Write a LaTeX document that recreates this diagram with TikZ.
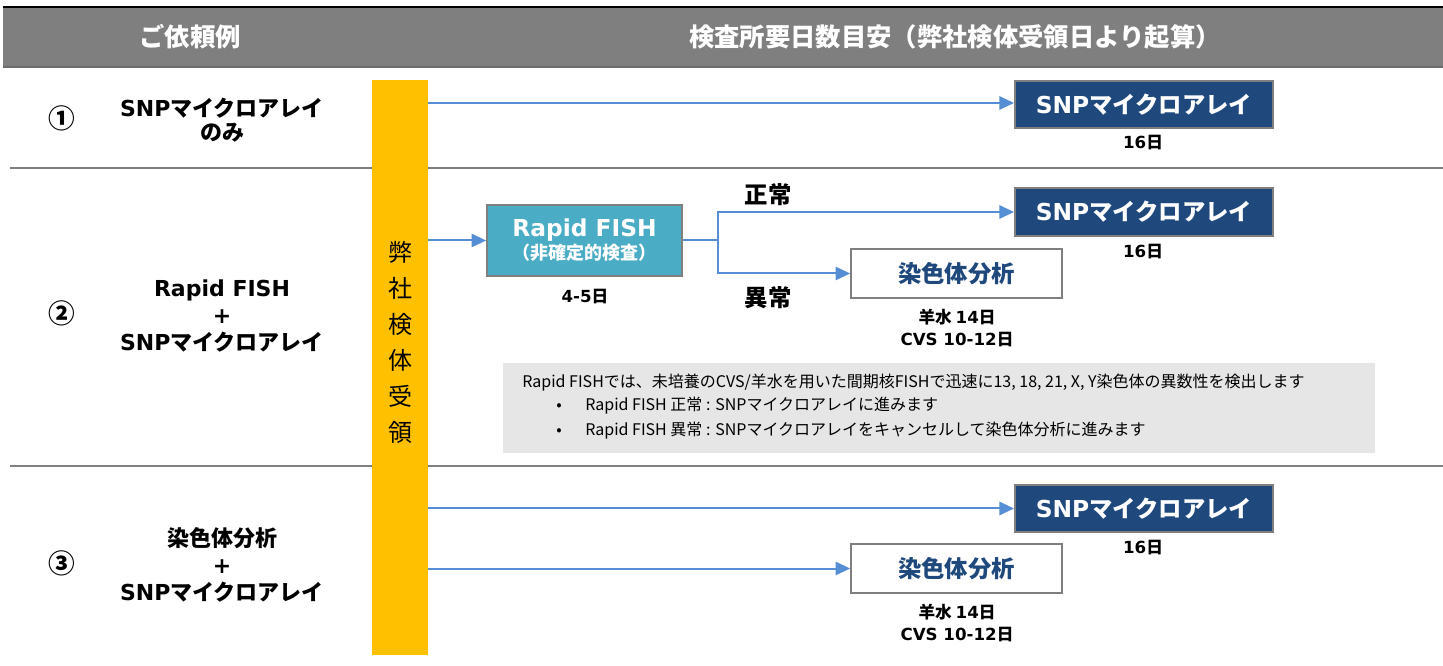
\documentclass[tikz,border=0pt]{standalone}
\usepackage{fontspec}
\setmainfont{Noto Sans CJK JP}
\newfontfamily\lat{DejaVu Sans}
\usetikzlibrary{arrows.meta}
\definecolor{hdr}{HTML}{7F7F7F}
\definecolor{sepc}{HTML}{7F7F7F}
\definecolor{orng}{HTML}{FFC000}
\definecolor{dblue}{HTML}{1F497D}
\definecolor{teal}{HTML}{4BACC6}
\definecolor{arr}{HTML}{558ED5}
\definecolor{notebg}{HTML}{E6E6E6}
\newcommand\vv[1]{{\lat #1}}
\begin{document}
\begin{tikzpicture}[x=0.75pt,y=-0.75pt,
  hdrtext/.style={text=white,font=\bfseries\fontsize{19}{23}\selectfont},
  sepline/.style={draw=sepc,line width=1.5pt},
  rowlab/.style={font=\bfseries\fontsize{16.5}{20}\selectfont,align=center},
  numlab/.style={font=\bfseries\fontsize{20}{24}\selectfont},
  snpbox/.style={draw=hdr,line width=1.5pt,fill=dblue,text=white,
    font=\bfseries\fontsize{17.5}{21}\selectfont,minimum width=193.5pt,minimum height=35.5pt,inner sep=0pt},
  chrbox/.style={draw=hdr,line width=1.5pt,fill=white,text=dblue,
    font=\bfseries\fontsize{17.5}{21}\selectfont,minimum width=158pt,minimum height=36.75pt,inner sep=0pt},
  fishbox/.style={draw=hdr,line width=1.5pt,fill=teal,text=white,align=center,
    minimum width=146pt,minimum height=53pt,inner sep=0pt},
  small/.style={font=\bfseries\fontsize{12.5}{16.5}\selectfont,align=center},
  branch/.style={font=\bfseries\fontsize{17.5}{21}\selectfont},
  conn/.style={draw=arr,line width=1.5pt},
  arrow/.style={conn,-{Triangle[length=11pt,width=10pt]}},
  notetext/.style={font=\fontsize{12}{14}\selectfont,anchor=west,inner sep=0pt}
]
\useasboundingbox (0,0) rectangle (1443,666);
% header
\fill[hdr] (3,8) rectangle (1443,67);
\draw[black,line width=2pt] (3,7) -- (1443,7);
\draw[draw=hdr!85!black,line width=1.5pt] (3,67) -- (1443,67);
\node[hdrtext] (h1) at (190,37) {ご依頼例};
\node[hdrtext] (h2) at (955,37) {検査所要日数目安（弊社検体受領日より起算）};
% separators
\draw[sepline] (10,168) -- (1443,168);
\draw[sepline] (10,466) -- (1443,466);
% note box
\node[fill=notebg,minimum width=654pt,minimum height=67.5pt,inner sep=0pt] (note) at (939,408) {};
\node[notetext] (n1) at (522,383) {Rapid FISHでは、未培養のCVS/羊水を用いた間期核FISHで迅速に13, 18, 21, X, Y染色体の異数性を検出します};
\node[notetext] (n2) at (556,406) {\makebox[21.75pt][l]{•}Rapid FISH 正常 : SNPマイクロアレイに進みます};
\node[notetext] (n3) at (556,431) {\makebox[21.75pt][l]{•}Rapid FISH 異常 : SNPマイクロアレイをキャンセルして染色体分析に進みます};
% orange bar
\node[fill=orng,minimum width=42pt,minimum height=431.25pt,inner sep=0pt] (bar) at (400,367.5) {};
\node[font=\fontsize{18}{27}\selectfont,align=center] (bt) at (400,342) {弊\\社\\検\\体\\受\\領};
% row 1
\node[numlab] (c1) at (62,118) {①};
\node[rowlab,font=\bfseries\fontsize{16.5}{18}\selectfont] (r1) at (222,120) {\vv{SNP}マイクロアレイ\\のみ};
\node[snpbox] (snp1) at (1144,104.5) {\vv{SNP}マイクロアレイ};
\node[small] (d1) at (1143,143) {\vv{16}日};
\draw[arrow] (bar.east |- 0,103) -- (snp1.west |- 0,103);
% row 2
\node[numlab] (c2) at (62,313) {②};
\node[rowlab] (r2) at (222,316) {\vv{Rapid FISH}\\\vv{+}\\\vv{SNP}マイクロアレイ};
\node[fishbox] (fish) at (584.5,240.5) {{\lat\bfseries\fontsize{17.5}{21}\selectfont Rapid FISH}\\[1pt]{\bfseries\fontsize{13.5}{16}\selectfont （非確定的検査）}};
\node[small] (d2) at (585,297) {\vv{4-5}日};
\node[snpbox] (snp2) at (1144,212) {\vv{SNP}マイクロアレイ};
\node[small] (d3) at (1143,252) {\vv{16}日};
\node[chrbox] (chr2) at (956.5,273.5) {染色体分析};
\node[small] (d4) at (957,328) {羊水 \vv{14}日\\\vv{CVS 10-12}日};
\coordinate (split) at (718,240.5);
\draw[arrow] (bar.east |- fish.west) -- (fish.west);
\draw[conn] (fish.east) -- (split);
\draw[arrow] (split) |- (snp2.west);
\draw[arrow] (split) |- (chr2.west);
\node[branch] (ok) at (768,195) {正常};
\node[branch] (ng) at (768,298) {異常};
% row 3
\node[numlab] (c3) at (62,563) {③};
\node[rowlab] (r3) at (222,565) {染色体分析\\\vv{+}\\\vv{SNP}マイクロアレイ};
\node[snpbox] (snp3) at (1144,508.5) {\vv{SNP}マイクロアレイ};
\node[small] (d5) at (1143,548) {\vv{16}日};
\node[chrbox] (chr3) at (956.5,568.5) {染色体分析};
\node[small] (d6) at (957,623) {羊水 \vv{14}日\\\vv{CVS 10-12}日};
\draw[arrow] (bar.east |- snp3.west) -- (snp3.west);
\draw[arrow] (bar.east |- chr3.west) -- (chr3.west);
\end{tikzpicture}
\end{document}
